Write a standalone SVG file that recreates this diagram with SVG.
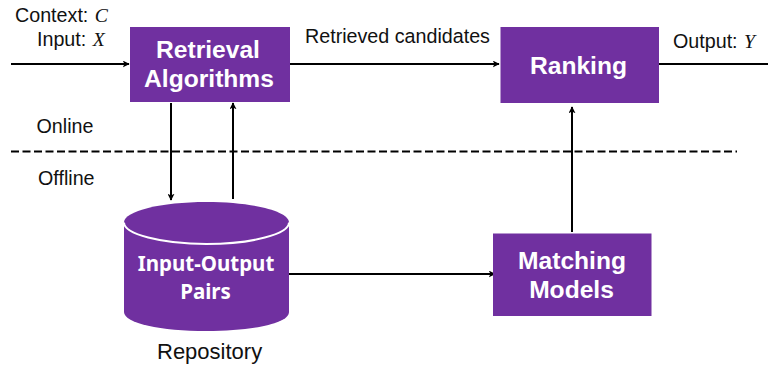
<svg xmlns="http://www.w3.org/2000/svg" width="768" height="368" viewBox="0 0 768 368">
<style>
.t{font-family:"Liberation Sans",Arial,sans-serif;font-size:19.700px;fill:#111}
.r{font-size:22px}
.m{font-family:"Liberation Serif","Times New Roman",serif;font-size:19.700px;font-style:italic;fill:#111}
.n{font-family:"Liberation Sans",Arial,sans-serif;font-size:24.600px;font-weight:700;fill:#fff;text-anchor:middle}
.c{font-family:"Noto Sans","Open Sans",sans-serif;font-size:20.500px;font-weight:700;fill:#fff;text-anchor:middle}
.b{fill:#7030a0}
.l{fill:none;stroke:#000;stroke-width:2}
</style>
<defs>
<marker id="a" viewBox="0 0 10 10" refX="9" refY="5" markerWidth="7" markerHeight="7" markerUnits="userSpaceOnUse" orient="auto"><path d="M0 0L10 5L0 10L2.500 5Z" fill="#000"/></marker>
</defs>
<rect width="768" height="368" fill="#fff"/>
<g id="connectors">
<path class="l" d="M11 64H129" marker-end="url(#a)"/>
<path class="l" d="M290 64H499" marker-end="url(#a)"/>
<path class="l" d="M659 64H768"/>
<path class="l" d="M171 103V200" marker-end="url(#a)"/>
<path class="l" d="M233 199V103" marker-end="url(#a)"/>
<path class="l" d="M287 274H495" marker-end="url(#a)"/>
<path class="l" d="M572 232V107" marker-end="url(#a)"/>
<path class="l" d="M11 151.500H737" stroke-dasharray="8 3.500"/>
</g>
<g id="retrieval">
<rect class="b" x="130" y="27" width="160" height="75"/>
<text class="n" x="208" y="58">Retrieval</text>
<text class="n" x="209" y="87">Algorithms</text>
</g>
<g id="ranking">
<rect class="b" x="500.500" y="27" width="158.500" height="76"/>
<text class="n" x="578.500" y="74">Ranking</text>
</g>
<g id="matching">
<rect class="b" x="493" y="233.500" width="158.500" height="82.500"/>
<text class="n" x="572" y="268.500">Matching</text>
<text class="n" x="571.500" y="298">Models</text>
</g>
<g id="repository">
<path class="b" d="M124 222.500C124 211 161 202 206.500 202S289 211 289 222.500V312C289 323.500 252 331 206.500 331S124 323.500 124 312Z"/>
<path d="M124 222.500C124 234 161 244 206.500 244S289 234 289 222.500" fill="none" stroke="#fff" stroke-width="2"/>
<text class="c" x="206" y="271">Input-Output</text>
<text class="c" x="205.500" y="299">Pairs</text>
<text class="t r" x="157" y="358.500">Repository</text>
</g>
<g id="labels">
<text class="t" x="15" y="21.500">Context: <tspan class="m" dx="1">C</tspan></text>
<text class="t" x="37" y="46">Input: <tspan class="m" dx="1">X</tspan></text>
<text class="t" x="305" y="42.500">Retrieved candidates</text>
<text class="t" x="673" y="47.500">Output: <tspan class="m" dx="1">Y</tspan></text>
<text class="t" x="36.500" y="133">Online</text>
<text class="t" x="38" y="184.500">Offline</text>
</g>
</svg>
